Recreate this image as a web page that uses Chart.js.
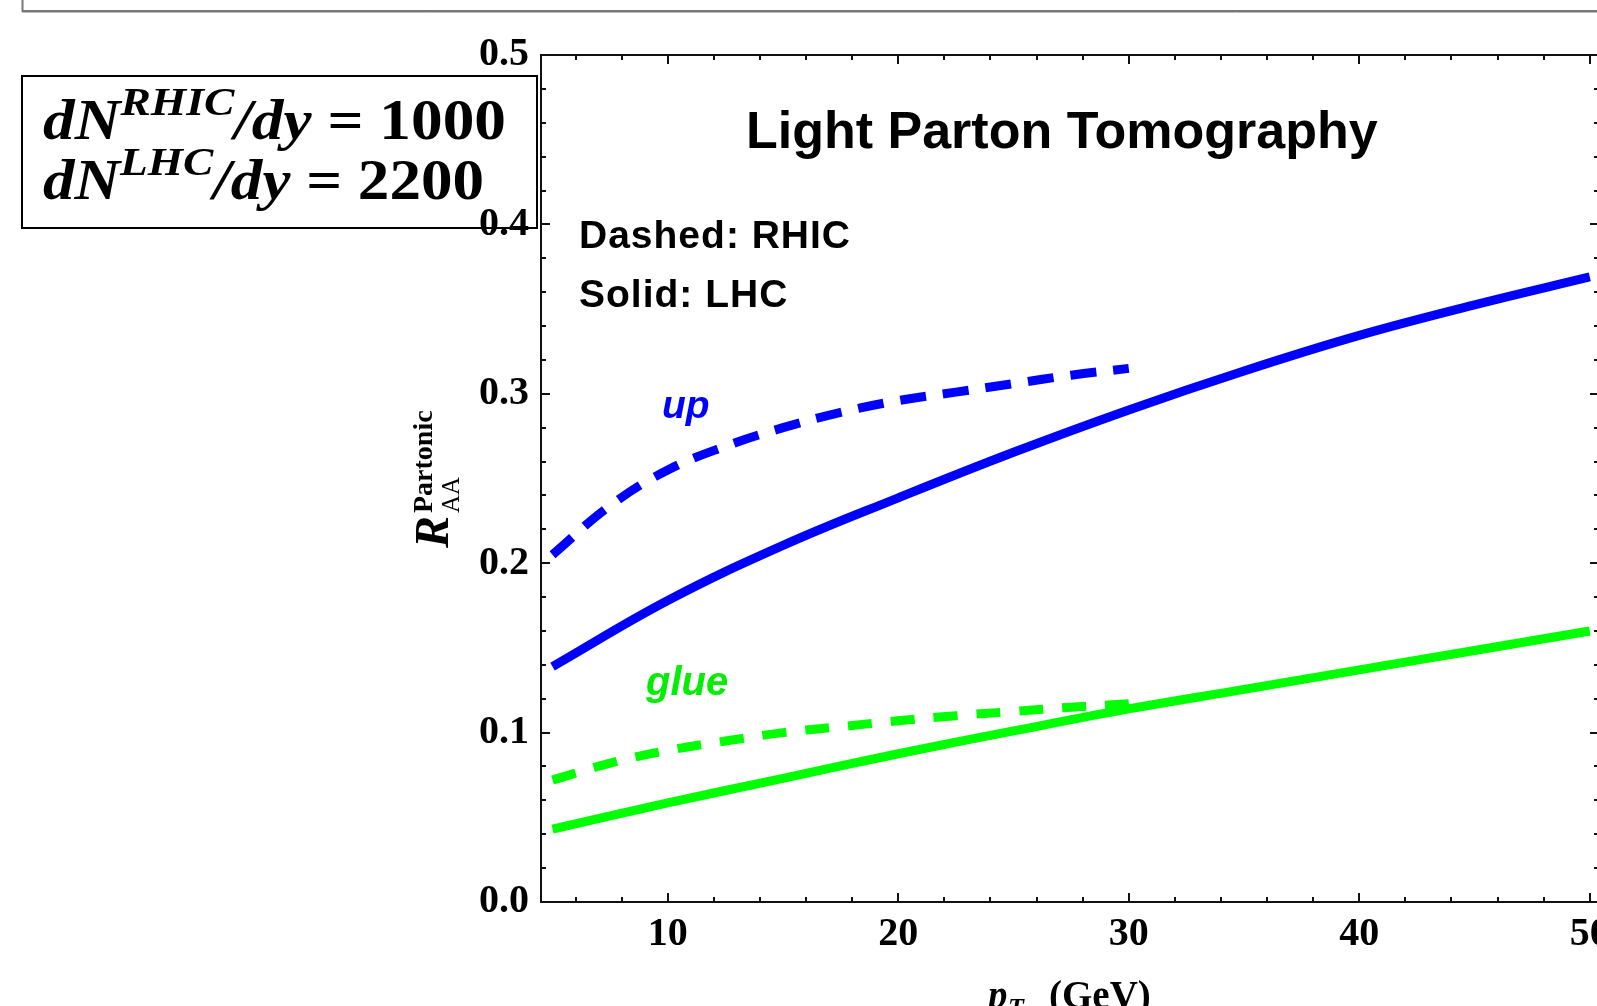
<!DOCTYPE html>
<html><head><meta charset="utf-8">
<script src="https://cdn.jsdelivr.net/npm/chart.js@4.4.1/dist/chart.umd.min.js"></script>
<style>
html,body{margin:0;padding:0;background:#fff;overflow:hidden;width:1597px;height:1006px;}
#wrap{position:absolute;left:0;top:0;width:1640px;height:1006px;}
canvas{display:block;}
</style></head><body>
<div id="wrap"><canvas id="c" width="1640" height="1006"></canvas></div>
<script>
// ---- data ----
const ptLHC   = [5, 10, 15, 20, 25, 30, 35, 40, 45, 50];
const upLHC   = [0.139, 0.178, 0.2105, 0.2386, 0.2655, 0.2905, 0.3135, 0.3345, 0.3525, 0.369];
const glueLHC = [0.043, 0.0585, 0.073, 0.0875, 0.101, 0.114, 0.1255, 0.137, 0.1485, 0.160];
const ptRHIC   = [5, 7.5, 10, 12.5, 15, 17.5, 20, 22.5, 25, 27.5, 30];
const upRHIC   = [0.205, 0.234, 0.255, 0.269, 0.280, 0.289, 0.296, 0.301, 0.306, 0.311, 0.315];
const glueRHIC = [0.072, 0.082, 0.0895, 0.095, 0.100, 0.1035, 0.107, 0.110, 0.1125, 0.115, 0.117];
const xTickLabels = [10, 20, 30, 40, 50];
const yTickLabels = [0.0, 0.1, 0.2, 0.3, 0.4, 0.5];
const xMinorTicks = [6, 8, 12, 14, 16, 18, 22, 24, 26, 28, 32, 34, 36, 38, 42, 44, 46, 48];
const yMinorTicks = [0.02, 0.04, 0.06, 0.08, 0.12, 0.14, 0.16, 0.18, 0.22, 0.24, 0.26, 0.28,
                     0.32, 0.34, 0.36, 0.38, 0.42, 0.44, 0.46, 0.48];

const BLUE = '#0000ff', GREEN = '#00ff00';
const SERIF = '"Liberation Serif","Times New Roman",serif';
const SANS = '"Liberation Sans",Arial,sans-serif';

function pts(xs, ys){ return xs.map((x,i)=>({x:x, y:ys[i]})); }

function drawSegs(ctx, segs, x, base, targetW){
  let w = 0;
  segs.forEach(s=>{ ctx.font = s.f; w += ctx.measureText(s.t).width; });
  const sx = targetW ? targetW / w : 1;
  ctx.save();
  ctx.translate(x, base);
  ctx.scale(sx, 1);
  let cx = 0;
  segs.forEach(s=>{ ctx.font = s.f; ctx.fillText(s.t, cx, s.dy||0); cx += ctx.measureText(s.t).width; });
  ctx.restore();
}

const decor = {
  id: 'decor',
  beforeDraw(chart){
    const ctx = chart.ctx;
    ctx.save();
    ctx.fillStyle = '#fff';
    ctx.fillRect(0, 0, chart.width, chart.height);
    // top frame remnant
    ctx.strokeStyle = '#777'; ctx.lineWidth = 2;
    ctx.beginPath(); ctx.moveTo(22.5, 0); ctx.lineTo(22.5, 11); ctx.lineTo(chart.width, 11); ctx.stroke();
    ctx.strokeStyle = '#bbb'; ctx.lineWidth = 1;
    ctx.beginPath(); ctx.moveTo(22, 12.5); ctx.lineTo(chart.width, 12.5); ctx.stroke();
    // annotation box
    ctx.strokeStyle = '#000'; ctx.lineWidth = 2;
    ctx.strokeRect(22, 76, 515, 152);
    ctx.fillStyle = '#000';
    ctx.textBaseline = 'alphabetic'; ctx.textAlign = 'left';
    const bi = 'italic bold 57px ' + SERIF, bis = 'italic bold 41px ' + SERIF, b = 'bold 57px ' + SERIF;
    drawSegs(ctx, [{t:'dN', f:bi}, {t:'RHIC', f:bis, dy:-24}, {t:'/dy', f:bi}, {t:' = ', f:b}, {t:'1000', f:b}], 43, 139, 463);
    drawSegs(ctx, [{t:'dN', f:bi}, {t:'LHC', f:bis, dy:-24}, {t:'/dy', f:bi}, {t:' = ', f:b}, {t:'2200', f:b}], 43, 199, 441);
    ctx.restore();
  },
  afterDatasetsDraw(chart){
    const ctx = chart.ctx, a = chart.chartArea;
    const xs = chart.scales.x, ys = chart.scales.y;
    ctx.save();
    ctx.strokeStyle = '#111'; ctx.lineWidth = 2;
    ctx.strokeRect(a.left, a.top, a.right - a.left, a.bottom - a.top);
    ctx.lineWidth = 2;
    const tick = (x1,y1,x2,y2)=>{ ctx.beginPath(); ctx.moveTo(x1,y1); ctx.lineTo(x2,y2); ctx.stroke(); };
    xTickLabels.forEach(v=>{ const p = Math.round(xs.getPixelForValue(v)); tick(p, a.bottom, p, a.bottom-9); tick(p, a.top, p, a.top+9); });
    xMinorTicks.forEach(v=>{ const p = Math.round(xs.getPixelForValue(v)); tick(p, a.bottom, p, a.bottom-5); tick(p, a.top, p, a.top+5); });
    yTickLabels.forEach(v=>{ const p = Math.round(ys.getPixelForValue(v)); tick(a.left, p, a.left+9, p); tick(a.right, p, a.right-9, p); });
    yMinorTicks.forEach(v=>{ const p = Math.round(ys.getPixelForValue(v)); tick(a.left, p, a.left+5, p); tick(a.right, p, a.right-5, p); });
    ctx.restore();
  },
  afterDraw(chart){
    const ctx = chart.ctx;
    ctx.save();
    ctx.textBaseline = 'alphabetic'; ctx.textAlign = 'left';
    ctx.fillStyle = '#000';
    ctx.font = 'bold 52px ' + SANS;
    ctx.fillText('Light Parton Tomography', 746, 148);
    ctx.font = 'bold 39px ' + SANS;
    ctx.letterSpacing = '1px';
    ctx.fillText('Dashed: RHIC', 579, 248);
    ctx.fillText('Solid: LHC', 579, 307);
    ctx.letterSpacing = '0px';
    ctx.font = 'italic bold 39px ' + SANS;
    ctx.fillStyle = BLUE;
    ctx.fillText('up', 662, 418);
    ctx.fillStyle = '#00ee00';
    ctx.font = 'italic bold 40px ' + SANS;
    ctx.fillText('glue', 646, 695);
    // y axis title
    ctx.fillStyle = '#000';
    ctx.save();
    ctx.translate(448, 548);
    ctx.rotate(-Math.PI/2);
    ctx.font = 'italic bold 48px ' + SERIF;
    ctx.fillText('R', 0, 0);
    ctx.font = 'bold 28px ' + SERIF;
    ctx.fillText('Partonic', 35, -16);
    ctx.font = '25px ' + SERIF;
    ctx.fillText('AA', 35, 11);
    ctx.restore();
    // x axis title
    ctx.font = 'italic bold 39px ' + SERIF;
    ctx.fillText('p', 988, 1008);
    ctx.font = 'italic bold 26px ' + SERIF;
    ctx.fillText('T', 1008, 1016);
    ctx.font = 'bold 39px ' + SERIF;
    ctx.fillText('(GeV)', 1049, 1008);
    ctx.restore();
  }
};

new Chart(document.getElementById('c'), {
  type: 'line',
  data: {
    datasets: [
      {label:'up LHC', data: pts(ptLHC, upLHC), borderColor: BLUE, borderWidth: 9},
      {label:'glue LHC', data: pts(ptLHC, glueLHC), borderColor: GREEN, borderWidth: 9},
      {label:'up RHIC', data: pts(ptRHIC, upRHIC), borderColor: BLUE, borderWidth: 9, borderDash: [26, 17]},
      {label:'glue RHIC', data: pts(ptRHIC, glueRHIC), borderColor: GREEN, borderWidth: 9, borderDash: [24, 19]}
    ]
  },
  options: {
    responsive: false,
    animation: false,
    events: [],
    layout: {padding: {left: 0, top: 55, right: 41, bottom: 0}},
    elements: {
      point: {radius: 0},
      line: {tension: 0.4, borderCapStyle: 'butt', fill: false}
    },
    plugins: {legend: {display: false}, tooltip: {enabled: false}},
    scales: {
      x: {
        type: 'linear', min: 4.5, max: 50.4,
        grid: {display: false, drawTicks: false},
        border: {display: false},
        afterBuildTicks: s => { s.ticks = xTickLabels.map(v => ({value: v})); },
        afterFit: s => { s.height = 104; },
        ticks: {color: '#000', padding: 9, maxRotation: 0, autoSkip: false,
                font: {family: SERIF, size: 40, weight: 'bold'}, callback: v => String(v)}
      },
      y: {
        type: 'linear', min: 0, max: 0.5,
        grid: {display: false, drawTicks: false},
        border: {display: false},
        afterBuildTicks: s => { s.ticks = yTickLabels.map(v => ({value: v})); },
        afterFit: s => { s.width = 541; },
        ticks: {color: '#000', padding: 12, autoSkip: false,
                font: {family: SERIF, size: 40, weight: 'bold'}, callback: v => Number(v).toFixed(1)}
      }
    }
  },
  plugins: [decor]
});
</script>
</body></html>
